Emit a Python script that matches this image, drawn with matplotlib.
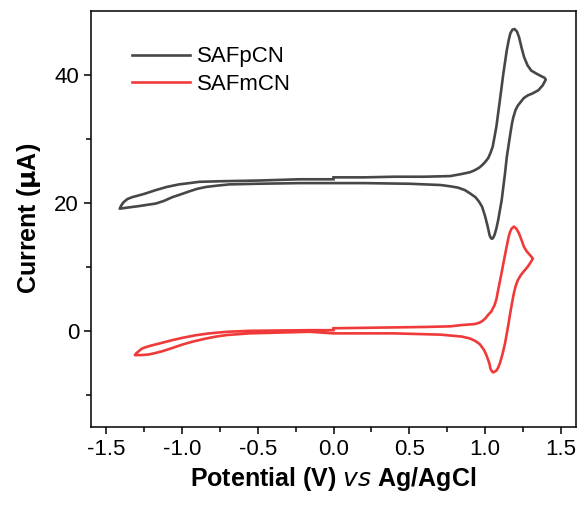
import matplotlib.pyplot as plt

# potentiel (V vs Ag/AgCl) et courant (uA)
# SAFpCN : balayage 0 -> +1.40 -> -1.41 -> 0
pot_p = [0.0, 0.2, 0.4, 0.6, 0.77, 0.84, 0.9, 0.93, 0.96, 0.98, 1.0, 1.02, 1.035, 1.05,
         1.074, 1.097, 1.12, 1.143, 1.155, 1.166, 1.18, 1.194, 1.21, 1.224, 1.24, 1.257,
         1.28, 1.304, 1.34, 1.372, 1.39, 1.40,
         1.38, 1.35, 1.31, 1.28, 1.255, 1.235, 1.215, 1.20, 1.185, 1.177, 1.166, 1.143,
         1.131, 1.12, 1.109, 1.097, 1.086, 1.074, 1.062, 1.052, 1.045, 1.038, 1.03, 1.017,
         1.0, 0.98, 0.96, 0.936, 0.9, 0.867, 0.82, 0.77, 0.707, 0.5, 0.2, 0.0,
         -0.222, -0.5, -0.687, -0.77, -0.841, -0.9, -0.952, -1.0, -1.063, -1.12, -1.173,
         -1.23, -1.284, -1.35, -1.41,
         -1.40, -1.385, -1.36, -1.328, -1.25, -1.173, -1.1, -1.019, -0.95, -0.886, -0.733,
         -0.5, -0.222, 0.0]
cur_p = [24.0, 24.0, 24.1, 24.1, 24.2, 24.5, 24.8, 25.1, 25.5, 25.9, 26.4, 27.0, 27.8, 28.8,
         31.9, 36.0, 40.2, 43.9, 45.4, 46.5, 47.1, 47.2, 46.8, 45.9, 44.3, 42.8,
         41.5, 40.7, 40.2, 39.8, 39.6, 39.3,
         38.4, 37.6, 37.1, 36.8, 36.4, 35.8, 35.2, 34.5, 33.3, 32.4, 30.8, 27.2,
         24.6, 22.5, 20.4, 18.8, 17.3, 16.0, 15.0, 14.5, 14.4, 14.5, 14.9, 16.3,
         17.9, 19.4, 20.2, 20.9, 21.5, 22.0, 22.4, 22.6, 22.8, 23.0, 23.1, 23.1,
         23.1, 23.0, 22.9, 22.7, 22.5, 22.2, 21.8, 21.4, 20.9, 20.3, 19.9,
         19.7, 19.5, 19.3, 19.1,
         19.6, 20.1, 20.6, 20.9, 21.4, 22.0, 22.5, 22.9, 23.1, 23.3, 23.4,
         23.5, 23.7, 23.7]

# SAFmCN : balayage 0 -> +1.315 -> -1.31 -> 0
pot_m = [0.0, 0.3, 0.6, 0.77, 0.845, 0.93, 0.96, 0.98, 1.0, 1.02, 1.04, 1.062, 1.075, 1.086,
         1.103, 1.12, 1.138, 1.155, 1.165, 1.175, 1.19, 1.205, 1.215, 1.224, 1.24, 1.257,
         1.275, 1.29, 1.305, 1.315,
         1.30, 1.28, 1.255, 1.235, 1.215, 1.20, 1.188, 1.177, 1.165, 1.155, 1.143, 1.131,
         1.115, 1.097, 1.085, 1.075, 1.062, 1.052, 1.044, 1.035, 1.028, 1.01, 0.993, 0.965,
         0.936, 0.9, 0.845, 0.707, 0.4, 0.0,
         -0.156, -0.554, -0.7, -0.775, -0.85, -0.93, -0.99, -1.04, -1.09, -1.13, -1.18,
         -1.218, -1.27, -1.31,
         -1.30, -1.29, -1.262, -1.21, -1.151, -1.07, -0.997, -0.91, -0.82, -0.7, -0.554,
         -0.156, 0.0]
cur_m = [0.4, 0.5, 0.6, 0.7, 0.9, 1.05, 1.25, 1.5, 1.9, 2.5, 3.0, 4.0, 5.0, 6.4,
         8.4, 10.5, 12.7, 14.7, 15.5, 16.0, 16.3, 16.0, 15.6, 15.2, 14.2, 13.1,
         12.4, 12.0, 11.6, 11.3,
         10.7, 10.0, 9.3, 8.7, 7.9, 6.9, 5.7, 4.3, 2.7, 1.2, -0.4, -2.0,
         -3.6, -5.1, -5.8, -6.2, -6.4, -6.5, -6.3, -5.9, -5.1, -3.9, -3.0, -2.1,
         -1.6, -1.2, -0.9, -0.6, -0.4, -0.4,
         -0.15, -0.4, -0.65, -0.9, -1.25, -1.7, -2.1, -2.5, -2.9, -3.2, -3.5,
         -3.7, -3.8, -3.8,
         -3.5, -3.3, -2.75, -2.35, -2.0, -1.5, -1.1, -0.7, -0.4, -0.15, 0.0,
         0.1, 0.1]

plt.rcParams['font.family'] = ['Liberation Sans', 'DejaVu Sans']
plt.rcParams['axes.unicode_minus'] = False

fig = plt.figure(figsize=(5.79, 5.05), dpi=100)
ax = fig.add_axes([0.157, 0.155, 0.838, 0.823])

ax.plot(pot_p, cur_p, color='#474747', lw=1.9, solid_joinstyle='round', label='SAFpCN')
ax.plot(pot_m, cur_m, color='#f03a3a', lw=1.9, solid_joinstyle='round', label='SAFmCN')

ax.set_xlim(-1.6, 1.6)
ax.set_ylim(-15, 50)
ax.set_xticks([-1.5, -1.0, -0.5, 0.0, 0.5, 1.0, 1.5])
ax.set_xticks([-1.25, -0.75, -0.25, 0.25, 0.75, 1.25], minor=True)
ax.set_yticks([0, 20, 40])
ax.set_yticks([-10, 10, 30], minor=True)
ax.tick_params(which='major', direction='out', length=5, width=1.1, labelsize=16)
ax.tick_params(which='minor', direction='out', length=3.5, width=1.1)
for s in ax.spines.values():
    s.set_linewidth(1.1)

ax.set_xlabel('Potential (V) $\\mathbf{\\it{vs}}$ Ag/AgCl', fontsize=18, fontweight='bold', labelpad=4)
ax.set_ylabel('Current ($\\mathbf{\\mu}$A)', fontsize=18, fontweight='bold', labelpad=8)

ax.legend(loc='upper left', bbox_to_anchor=(0.085, 0.915), frameon=False, fontsize=16,
          handlelength=2.6, handletextpad=0.3, labelspacing=0.3, borderpad=0, borderaxespad=0)

plt.savefig('out.png', dpi=100)
